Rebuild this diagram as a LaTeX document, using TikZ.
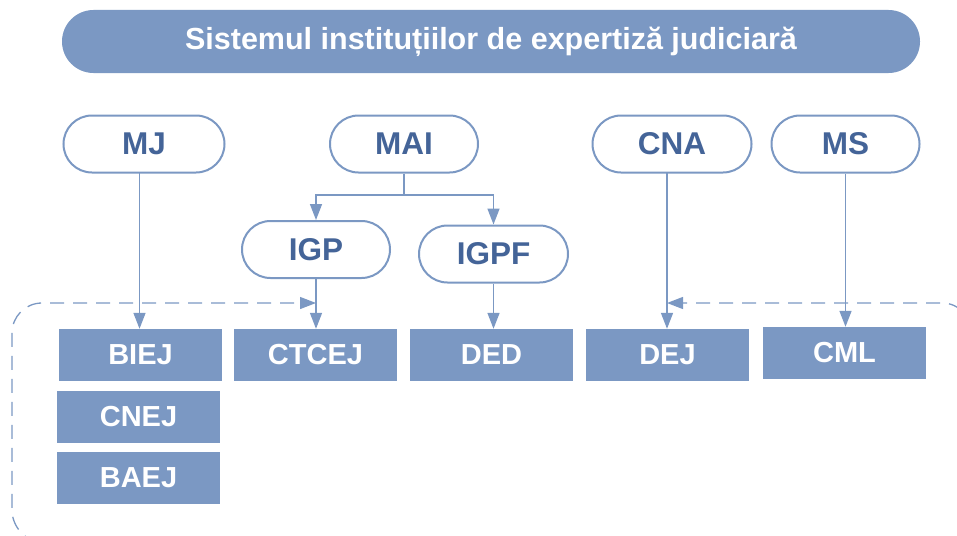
\documentclass[tikz,border=0pt]{standalone}
\usepackage{fontspec}
\setmainfont{Liberation Sans}
\usetikzlibrary{arrows.meta}
\definecolor{boxblue}{RGB}{123,152,195}
\definecolor{txtblue}{RGB}{68,100,152}
\begin{document}
\begin{tikzpicture}[x=1pt,y=-1pt,
  topnode/.style={draw=boxblue,line width=2pt,fill=white,rounded corners=28.5pt,minimum height=57pt,inner sep=0pt,font=\fontsize{31.5}{31.5}\selectfont\bfseries,text=txtblue},
  botnode/.style={fill=boxblue,minimum height=52pt,minimum width=163pt,inner sep=0pt,font=\fontsize{29}{29}\selectfont\bfseries,text=white},
  conn/.style={draw=boxblue,line width=1.5pt,-{Triangle[width=12pt,length=16pt]}},
  plain/.style={draw=boxblue,line width=1.5pt},
  dline/.style={draw=boxblue,line width=1.3pt,dash pattern=on 14pt off 9pt,rounded corners=30pt}]
\useasboundingbox (0,0) rectangle (957,535);
\clip (0,0) rectangle (957,535);
% title
\node[fill=boxblue,rounded corners=31.5pt,minimum width=858pt,minimum height=63pt,inner sep=0pt,text=white] (title) at (491,41.5)
  {\fontsize{30.5}{30.5}\selectfont\bfseries Sistemul instituțiilor de expertiză judiciară};
% top nodes
\node[topnode,minimum width=161pt] (mj) at (144,144) {MJ};
\node[topnode,minimum width=148pt] (mai) at (404,144) {MAI};
\node[topnode,minimum width=159pt] (cna) at (672,144) {CNA};
\node[topnode,minimum width=148pt] (ms) at (845.5,144) {MS};
\node[topnode,minimum width=148pt] (igp) at (316,249.5) {IGP};
\node[topnode,minimum width=149pt] (igpf) at (493.5,254) {IGPF};
% bottom boxes
\node[botnode] (biej) at (140.5,355) {BIEJ};
\node[botnode] (cnej) at (138.5,417) {CNEJ};
\node[botnode] (baej) at (138.5,478) {BAEJ};
\node[botnode] (ctcej) at (315.5,355) {CTCEJ};
\node[botnode] (ded) at (491.5,355) {DED};
\node[botnode] (dej) at (667.5,355) {DEJ};
\node[botnode] (cml) at (844.5,353) {CML};
% coordinates
\coordinate (mjout) at (139.5,173);
\coordinate (cnaout) at (667,173);
\coordinate (split) at (404,195);
\coordinate (lstart) at (60,545);
\coordinate (lcorner1) at (12,540);
\coordinate (lcorner2) at (12,303);
\coordinate (ltip) at (316,303);
\coordinate (rstart) at (972,560);
\coordinate (rcorner) at (972,303);
\coordinate (rtip) at (667,303);
% connectors
\draw[conn] (mjout) -- (mjout |- biej.north);
\draw[plain] (mai.south) -- (split);
\draw[conn] (split) -| (igp.north);
\draw[conn] (split) -| (igpf.north);
\draw[conn] (igp.south) -- (igp.south |- ctcej.north);
\draw[conn] (igpf.south) -- (igpf.south |- ded.north);
\draw[conn] (cnaout) -- (cnaout |- dej.north);
\draw[conn] (ms.south) -- (ms.south |- cml.north);
% dashed links
\draw[dline,-{Triangle[width=12pt,length=16pt]}] (lstart) -- (lcorner1) -- (lcorner2) -- (ltip);
\draw[dline,-{Triangle[width=12pt,length=16pt]}] (rstart) -- (rcorner) -- (rtip);
\end{tikzpicture}
\end{document}
